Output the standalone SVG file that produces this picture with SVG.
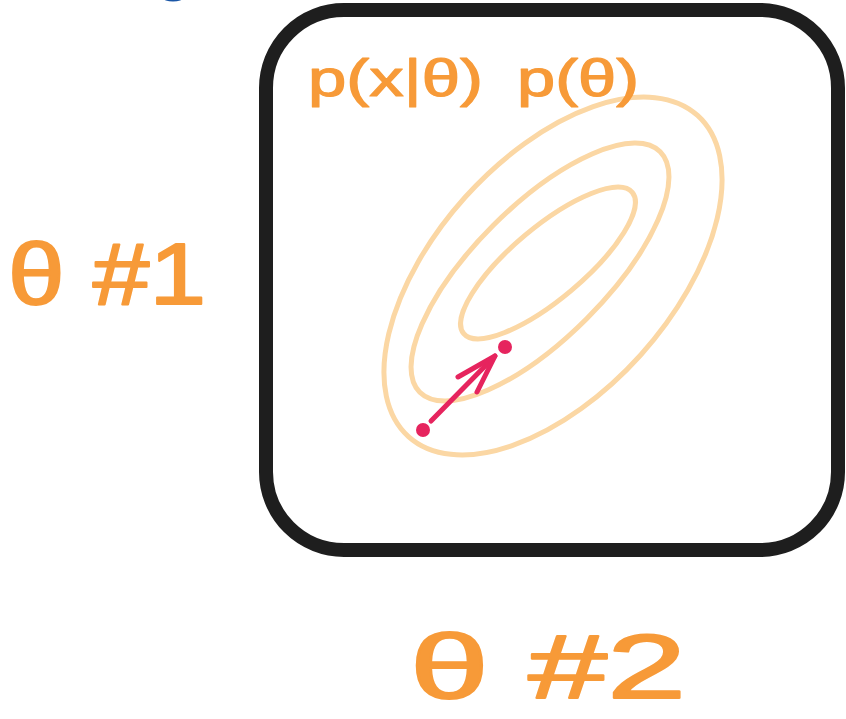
<svg xmlns="http://www.w3.org/2000/svg" width="846" height="719" viewBox="0 0 846 719">
  <style>
    .lbl { font-family: "Liberation Sans", "DejaVu Sans", sans-serif; fill: #f79a38; stroke: #f79a38; stroke-linejoin: round; font-weight: normal; }
    .contour { fill: none; stroke: #fbd7a4; stroke-width: 5; }
    .pt { fill: #e6245e; }
  </style>
  <rect width="846" height="719" fill="#ffffff"/>
  <ellipse cx="173" cy="-2" rx="10" ry="3.5" fill="#1a56a6"/>
  <g id="plot-box">
    <rect x="266" y="10" width="572" height="540" rx="78" ry="78" fill="none" stroke="#1e1e1e" stroke-width="14"/>
  </g>
  <g id="contours">
    <ellipse class="contour" cx="553" cy="276" rx="216" ry="118" transform="rotate(-48 553 276)"/>
    <ellipse class="contour" cx="540" cy="272" rx="170" ry="66" transform="rotate(-45 540 272)"/>
    <ellipse class="contour" cx="548" cy="263" rx="110" ry="36" transform="rotate(-40 548 263)"/>
  </g>
  <g id="title">
    <text class="lbl" x="308" y="96" font-size="52" stroke-width="1.2" textLength="175" lengthAdjust="spacingAndGlyphs">p(x|θ)</text>
    <text class="lbl" x="517" y="96" font-size="52" stroke-width="1.2" textLength="122" lengthAdjust="spacingAndGlyphs">p(θ)</text>
  </g>
  <g id="axis-y">
    <text class="lbl" x="8" y="304" font-size="88" stroke-width="2" textLength="198" lengthAdjust="spacingAndGlyphs">θ #1</text>
  </g>
  <g id="axis-x">
    <text class="lbl" x="410" y="698" font-size="90" stroke-width="2" textLength="276" lengthAdjust="spacingAndGlyphs">θ #2</text>
  </g>
  <g id="start-point"><circle class="pt" cx="423" cy="430" r="7"/></g>
  <g id="end-point"><circle class="pt" cx="505" cy="347" r="7"/></g>
  <g id="connectors" fill="none" stroke="#e6245e" stroke-width="5" stroke-linecap="round" stroke-linejoin="round">
    <path d="M431 421 L495 356"/>
    <path d="M458 377 L495 356 L477 392"/>
  </g>
</svg>
